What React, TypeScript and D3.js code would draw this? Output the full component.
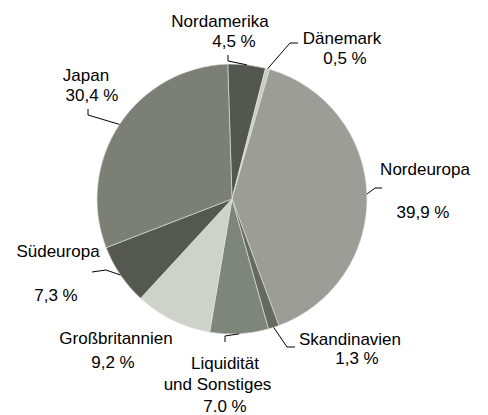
import React from "react";
import * as d3 from "d3";

const categories = ["Nordamerika", "Dänemark", "Nordeuropa", "Skandinavien", "Liquidität und Sonstiges", "Großbritannien", "Südeuropa", "Japan"];
const values = [4.5, 0.5, 39.9, 1.3, 7.0, 9.2, 7.3, 30.4];
const valueLabels = ["4,5 %", "0,5 %", "39,9 %", "1,3 %", "7.0 %", "9,2 %", "7,3 %", "30,4 %"];
const colors = ["#53574f", "#c9ccc6", "#9b9d96", "#656a5f", "#7e857a", "#cfd1cb", "#555850", "#7b7f76"];

// label layout: lines with [x, baseline]
const labelLines: { text: string; x: number; y: number }[][] = [
  [{ text: "Nordamerika", x: 220, y: 27 }, { text: "4,5 %", x: 234, y: 47 }],
  [{ text: "Dänemark", x: 342, y: 44 }, { text: "0,5 %", x: 345, y: 64 }],
  [{ text: "Nordeuropa", x: 425, y: 175 }, { text: "39,9 %", x: 423, y: 218 }],
  [{ text: "Skandinavien", x: 350, y: 345 }, { text: "1,3 %", x: 357, y: 364 }],
  [{ text: "Liquidität", x: 225, y: 369 }, { text: "und Sonstiges", x: 217.5, y: 390 }, { text: "7.0 %", x: 225, y: 412 }],
  [{ text: "Großbritannien", x: 116, y: 344 }, { text: "9,2 %", x: 113, y: 368 }],
  [{ text: "Südeuropa", x: 58, y: 257 }, { text: "7,3 %", x: 56, y: 301 }],
  [{ text: "Japan", x: 86, y: 81 }, { text: "30,4 %", x: 92, y: 101 }],
];
// leader elbows (after arc point)
const leaderPts: ([number, number][] | null)[] = [
  [[228, 61], [228, 55]],
  [[290, 43], [298, 43]],
  [[375, 188], [382, 188]],
  [[287, 347], [295, 347]],
  [[225, 336], [225, 342]],
  null,
  [[106, 270], [92, 272]],
  [[88, 115], [88, 109]],
];

const W = 488, H = 415;
const cx = 232, cy = 199, R = 135;
const startOffset = (-1.8 * Math.PI) / 180;

export default function App() {
  const pie = d3.pie<number>().sort(null).value((d) => d)
    .startAngle(startOffset).endAngle(startOffset + 2 * Math.PI);
  const arcs = pie(values);
  const arcGen = d3.arc<d3.PieArcDatum<number>>().innerRadius(0).outerRadius(R);
  return (
    <svg width={W} height={H} style={{ position: "absolute", left: 0, top: 0 }}>
      <rect width={W} height={H} fill="#fff" />
      <g transform={`translate(${cx},${cy})`}>
        {arcs.map((a, i) => (
          <path key={i} d={arcGen(a) || ""} fill={colors[i]} stroke="#e6e6e2" strokeWidth={0.6} />
        ))}
      </g>
      {arcs.map((a, i) => {
        const pts = leaderPts[i];
        if (!pts) return null;
        const mid = (a.startAngle + a.endAngle) / 2;
        const p0: [number, number] = [cx + R * Math.sin(mid), cy - R * Math.cos(mid)];
        const line = d3.line()([p0, ...pts]) || "";
        return <path key={"l" + i} d={line} fill="none" stroke="#000" strokeWidth={1} />;
      })}
      {labelLines.map((lines, i) =>
        lines.map((l, j) => (
          <text key={i + "-" + j} x={l.x} y={l.y} textAnchor="middle"
            fontFamily="'Liberation Sans', Arial, sans-serif" fontSize={17} fill="#000">
            {l.text}
          </text>
        ))
      )}
    </svg>
  );
}
